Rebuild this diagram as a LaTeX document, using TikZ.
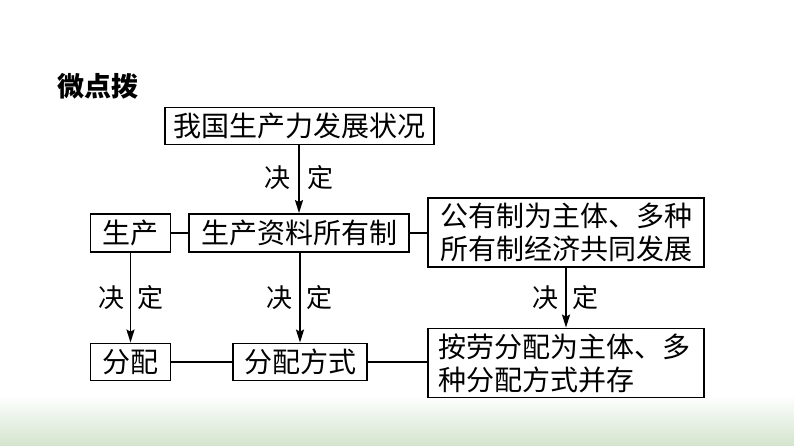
\documentclass[tikz,border=0pt]{standalone}
\usepackage{fontspec}
\newfontfamily\cjk{Noto Sans CJK SC}
\usetikzlibrary{arrows.meta,positioning,calc}
\definecolor{bandgreen}{RGB}{211,228,206}
\tikzset{
  box/.style={draw=black, line width=1.8pt, inner sep=0pt, font=\fontsize{28}{33}\selectfont\cjk},
  lbl/.style={inner sep=0pt, font=\fontsize{26}{30}\selectfont\cjk},
  arr/.style={line width=1.8pt, -{Stealth[length=13pt,width=8pt,inset=2pt]}},
  conn/.style={line width=1.8pt}
}
\begin{document}
\begin{tikzpicture}[x=1pt,y=-1pt]
\useasboundingbox (0,0) rectangle (794,446);
\fill[white] (0,0) rectangle (794,446);
\shade[top color=white, bottom color=bandgreen] (0,395) rectangle (794,446);
\node[inner sep=0pt, font=\fontsize{27}{30}\selectfont\cjk\bfseries] (title) at (97.5,86) {微点拨};
\node[box, minimum width=269pt, minimum height=37pt] (top) at (299.5,126) {我国生产力发展状况};
\node[box, minimum width=80pt, minimum height=38pt] (sc) at (130.5,233) {生产};
\node[box, minimum width=220pt, minimum height=38pt] (sczl) at (299,233) {生产资料所有制};
\node[box, minimum width=276pt, minimum height=69pt, align=left] (gyz) at (566,232.5) {公有制为主体、多种\\所有制经济共同发展};
\node[box, minimum width=80pt, minimum height=37pt] (fp) at (130.5,362) {分配};
\node[box, minimum width=134pt, minimum height=37pt] (fpfs) at (300,362) {分配方式};
\node[box, minimum width=276pt, minimum height=69pt, text width=256pt, align=left] (al) at (566,363) {按劳分配为主体、多\\种分配方式并存};
\draw[arr] (top.south -| sczl) -- (sczl.north);
\draw[arr] (sc.south) -- (fp.north);
\draw[arr] (sczl.south -| fpfs) -- (fpfs.north);
\draw[arr] (gyz.south) -- (al.north);
\draw[conn] (sc.east) -- (sczl.west);
\draw[conn] (sczl.east) -- (sczl.east -| gyz.west);
\draw[conn] (fp.east) -- (fpfs.west);
\draw[conn] (fpfs.east) -- (fpfs.east -| al.west);
\node[lbl] (j1) at (277,178) {决};
\node[lbl] (d1) at (320,178) {定};
\node[lbl] (j2) at (111,298) {决};
\node[lbl] (d2) at (150,298) {定};
\node[lbl] (j3) at (279,298) {决};
\node[lbl] (d3) at (319,298) {定};
\node[lbl] (j4) at (545,298) {决};
\node[lbl] (d4) at (585,298) {定};
\end{tikzpicture}
\end{document}
